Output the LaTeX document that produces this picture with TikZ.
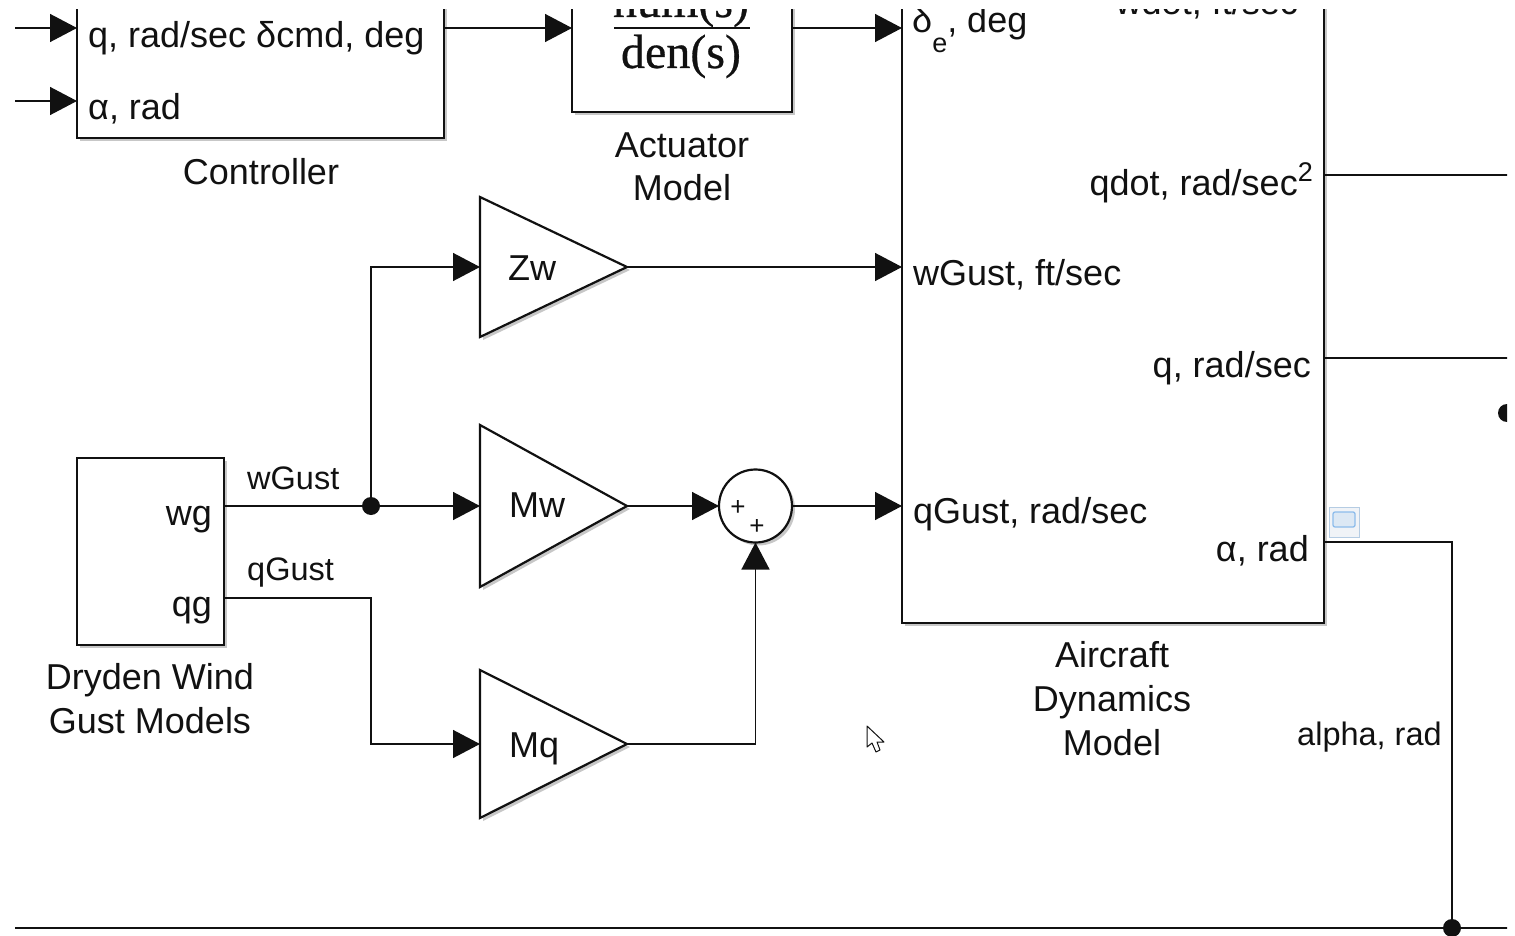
\documentclass[tikz,border=0pt]{standalone}
\usepackage{fontspec}
\setmainfont{Liberation Sans}
\newfontfamily\tfserif[FakeBold=0.6]{Liberation Serif}
\usetikzlibrary{arrows.meta,shadows,calc}
\definecolor{ink}{HTML}{111111}
\definecolor{iconedge}{HTML}{B5CCE3}
\definecolor{iconfill}{HTML}{F0F3F7}
\definecolor{iconin}{HTML}{8DBCEB}
\definecolor{iconinfill}{HTML}{DCE8F4}
\begin{document}
\begin{tikzpicture}[x=1pt,y=-1pt,
  sh/.style={drop shadow={shadow xshift=3pt,shadow yshift=-3pt,fill=black,opacity=0.22}},
  blk/.style={draw=ink,line width=2.6pt,fill=white,inner sep=0pt,outer sep=0pt,sh},
  gain/.style={draw=ink,line width=2.2pt,fill=white,sh},
  sig/.style={draw=ink,line width=1.4pt},
  arr/.style={sig,-{Triangle[length=27pt,width=28pt]}},
  lbl/.style={font=\fontsize{36}{44}\selectfont,inner sep=0pt,text=ink},
  slbl/.style={font=\fontsize{32.5}{40}\selectfont,inner sep=0pt,text=ink},
  plus/.style={font=\fontsize{26}{26}\selectfont,inner sep=0pt,text=ink},
  jdot/.style={circle,fill=ink,inner sep=0pt,minimum size=18pt},
]
\useasboundingbox (0,0) rectangle (1515,936);
\begin{scope}
\clip (15,10) rectangle (1507,936);

% ---- blocks ----
\node[blk,minimum width=367pt,minimum height=190pt] (ctrl) at (260.5,43) {};
\node[blk,minimum width=220pt,minimum height=170pt] (act) at (682,27) {};
\node[blk,minimum width=422pt,minimum height=700pt] (air) at (1113,273) {};
\node[blk,minimum width=147pt,minimum height=187pt] (dry) at (150.5,551.5) {};

% gain blocks
\coordinate (zwin) at (480,267);  \coordinate (zwout) at (627,267);
\coordinate (mwin) at (480,506);  \coordinate (mwout) at (627,506);
\coordinate (mqin) at (480,744);  \coordinate (mqout) at (627,744);
\draw[gain] (480,197) -- (zwout) -- (480,337) -- cycle;
\draw[gain] (480,425) -- (mwout) -- (480,587) -- cycle;
\draw[gain] (480,670) -- (mqout) -- (480,818) -- cycle;

% sum block
\node[circle,draw=ink,line width=2.2pt,fill=white,sh,minimum size=73pt,
      inner sep=0pt,outer sep=0pt] (sum) at (755.5,506) {};
\node[plus] (p1) at (738,508) {+};
\node[plus] (p2) at (757,527) {+};

% ---- signal lines ----
\coordinate (in1) at (15,28);
\coordinate (in2) at (15,101);
\draw[arr] (in1) -- (in1 -| ctrl.west);
\draw[arr] (in2) -- (in2 -| ctrl.west);
\draw[arr] (in1 -| ctrl.east) -- (in1 -| act.west);
\draw[arr] (in1 -| act.east) -- (in1 -| air.west);

\coordinate (qdotend) at (1515,175);
\coordinate (qend) at (1515,358);
\coordinate (ya) at (0,542);
\coordinate (busl) at (15,928);
\coordinate (busr) at (1515,928);
\draw[sig] (qdotend -| air.east) -- (qdotend);
\draw[sig] (qend -| air.east) -- (qend);
\draw[sig] (busl) -- (busr);
\node[jdot] (adot) at (1452,928) {};
\draw[sig] (ya -| air.east) -| (adot.center);
\node[jdot] (rdot) at (1507,413) {};

\coordinate (ywg) at (0,506);
\coordinate (yqg) at (0,598);
\node[jdot] (split) at (371,506) {};
\coordinate (qbend) at (371,744);
\draw[arr] (ywg -| dry.east) -- (mwin);
\draw[arr] (split.center) |- (zwin);
\draw[arr] (yqg -| dry.east) -| (qbend) -- (mqin);

\draw[arr] (zwout) -- (zwout -| air.west);
\draw[arr] (mwout) -- (sum.west);
\draw[arr] (mqout) -| (sum.south);
\draw[arr] (sum.east) -- (sum.east -| air.west);

% ---- block contents ----
\node[lbl,anchor=base west] (c1) at (88,48) {q, rad/sec δcmd, deg};
\node[lbl,anchor=base west] (c2) at (88,120) {α, rad};
\node[lbl,anchor=base] (ctrlname) at (261,185) {Controller};

\draw[draw=ink,line width=2pt] (614,28) -- (750,28);
\node[inner sep=0pt,anchor=base,font=\tfserif\fontsize{48}{48}\selectfont,text=ink] (num) at (681,17) {num(s)};
\node[inner sep=0pt,anchor=base,font=\tfserif\fontsize{48}{48}\selectfont,text=ink] (den) at (681,68) {den(s)};
\node[lbl,anchor=base] (actname1) at (682,158) {Actuator};
\node[lbl,anchor=base] (actname2) at (682,201) {Model};

\node[lbl,anchor=base west] (a1) at (912,33) {δ\raisebox{-20pt}{\fontsize{27}{27}\selectfont e},\ deg};
\node[lbl,anchor=base east] (a2) at (1298,15) {wdot, ft/sec};
\node[lbl,anchor=base east] (a3) at (1313,196) {qdot, rad/sec\raisebox{14pt}{\fontsize{27}{27}\selectfont 2}};
\node[lbl,anchor=base west] (a4) at (913,285) {wGust, ft/sec};
\node[lbl,anchor=base east] (a5) at (1311,377) {q, rad/sec};
\node[lbl,anchor=base west] (a6) at (913,523) {qGust, rad/sec};
\node[lbl,anchor=base east] (a7) at (1309,561) {α, rad};
\node[lbl,anchor=base] (airname1) at (1112,667) {Aircraft};
\node[lbl,anchor=base] (airname2) at (1112,711) {Dynamics};
\node[lbl,anchor=base] (airname3) at (1112,755) {Model};

\node[lbl,anchor=base east] (d1) at (212,525) {wg};
\node[lbl,anchor=base east] (d2) at (212,616) {qg};
\node[lbl,anchor=base] (dryname1) at (150,689) {Dryden Wind};
\node[lbl,anchor=base] (dryname2) at (150,733) {Gust Models};

\node[lbl,anchor=base west] (zw) at (508,280) {Zw};
\node[lbl,anchor=base west] (mw) at (509,517) {Mw};
\node[lbl,anchor=base west] (mq) at (509,757) {Mq};

% ---- signal labels ----
\node[slbl,anchor=base west] (lwg) at (247,489) {wGust};
\node[slbl,anchor=base west] (lqg) at (247,580) {qGust};
\node[slbl,anchor=base west] (lal) at (1297,745) {alpha, rad};

% ---- small port icon and pointer ----
\draw[draw=iconedge,fill=iconfill,line width=1pt] (1329,507) rectangle (1359,537);
\draw[draw=iconin,fill=iconinfill,line width=1.3pt,rounded corners=2pt] (1333,512) rectangle (1355,527);
\draw[draw=ink,fill=white,line width=1pt,line join=round]
  (867,726) -- (867,747) -- (872,743) -- (876,752) -- (880,750) -- (877,742) -- (884,742) -- cycle;
\end{scope}
\end{tikzpicture}
\end{document}
